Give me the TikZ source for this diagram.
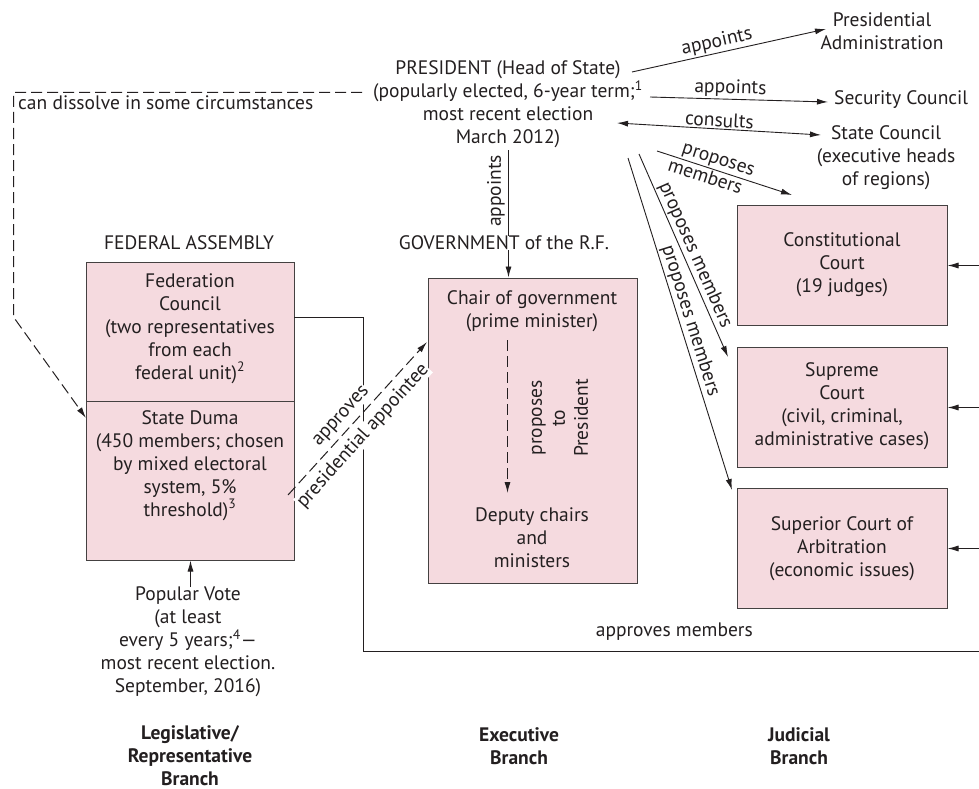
\documentclass[tikz,border=0pt]{standalone}
\usepackage{fontspec}
\setmainfont{PT Sans}
\usetikzlibrary{arrows.meta}
\definecolor{boxpink}{RGB}{245,218,223}
\definecolor{ink}{RGB}{35,31,32}
\newcommand{\fs}{\fontsize{19.5}{23}\selectfont}
\begin{document}
\begin{tikzpicture}[x=1pt,y=-1pt,
  txt/.style={align=center, inner sep=0pt, text=ink, font=\fs},
  bold/.style={align=center, inner sep=0pt, text=ink, font=\fs\bfseries},
  box/.style={draw=ink!85, fill=boxpink, line width=1pt, inner sep=0pt},
  arr/.style={-{Latex[length=11pt,width=6pt]}, line width=0.9pt, draw=ink},
  darr/.style={{Latex[length=11pt,width=6pt]}-{Latex[length=11pt,width=6pt]}, line width=0.9pt, draw=ink},
  plain/.style={line width=0.9pt, draw=ink},
  dsh/.style={dash pattern=on 11pt off 5pt, line width=1pt},
  lbl/.style={inner sep=1.5pt, text=ink, font=\fs}]
\useasboundingbox (0,0) rectangle (979,789);
\fill[white] (0,0) rectangle (979,789);

% ---------- boxes ----------
\node[box, minimum width=208pt, minimum height=139pt] (fc) at (190,331.5) {};
\node[box, minimum width=208pt, minimum height=159pt] (duma) at (190,480.5) {};
\node[box, minimum width=209pt, minimum height=305pt] (gov) at (532.5,430.5) {};
\node[box, minimum width=210pt, minimum height=120pt] (cc) at (842,265) {};
\node[box, minimum width=210pt, minimum height=120pt] (sup) at (842,407) {};
\node[box, minimum width=210pt, minimum height=120pt] (sca) at (842,548) {};

% ---------- texts ----------
\node[txt] (pres) at (508,104.5) {PRESIDENT (Head of State)\\(popularly elected, 6-year term;\textsuperscript{1}\\most recent election\\March 2012)};
\node[txt] (pa) at (882,31.5) {Presidential\\Administration};
\node[txt, anchor=west] (sc) at (834,100) {Security Council};
\node[txt] (stc) at (886,158) {State Council\\(executive heads\\of regions)};
\node[txt] (fa) at (189,243) {FEDERAL ASSEMBLY};
\node[txt] (fct) at (190,328.5) {Federation\\Council\\(two representatives\\from each\\federal unit)\textsuperscript{2}};
\node[txt] (dut) at (190,465.5) {State Duma\\(450 members; chosen\\by mixed electoral\\system, 5\%\\threshold)\textsuperscript{3}};
\node[txt] (chair) at (532,311.5) {Chair of government\\(prime minister)};
\node[txt] (dep) at (532,537.5) {Deputy chairs\\and\\ministers};
\node[txt, rotate=90] (ptp) at (560,418) {proposes\\to\\President};
\node[txt] (cct) at (842,265) {Constitutional\\Court\\(19 judges)};
\node[txt] (supt) at (842,406.5) {Supreme\\Court\\(civil, criminal,\\administrative cases)};
\node[txt] (scat) at (842,548.5) {Superior Court of\\Arbitration\\(economic issues)};
\node[txt] (pv) at (188,642) {Popular Vote\\(at least\\every 5 years;\textsuperscript{4}---\\most recent election.\\September, 2016)};
\node[txt, anchor=west] (diss) at (18,103) {can dissolve in some circumstances};
\node[txt, anchor=east] (apm) at (753,632) {approves members};
\node[bold] (leg) at (190,756) {Legislative/\\Representative\\Branch};
\node[bold] (exe) at (519,746.5) {Executive\\Branch};
\node[bold] (jud) at (799,746.5) {Judicial\\Branch};

% ---------- coordinates ----------
\coordinate (d0) at (362,92.5);
\coordinate (d1) at (13.5,92.5);
\coordinate (d2) at (13.5,317);
\coordinate (d3) at (86,418);
\coordinate (pa0) at (632,72);
\coordinate (pa1) at (826,29);
\coordinate (sc0) at (650,97);
\coordinate (sc1) at (828,102);
\coordinate (cs0) at (617,123);
\coordinate (cs1) at (821,135);
\coordinate (pm10) at (657,151);
\coordinate (pm11) at (792,195);
\coordinate (pm20) at (639,154);
\coordinate (pm21) at (728,357);
\coordinate (pm30) at (628,158);
\coordinate (pm31) at (732,490);
\coordinate (ap0) at (508.5,150);
\coordinate (ch0) at (507.5,340);
\coordinate (ch1) at (507.5,493);
\coordinate (ppa0) at (288,495);
\coordinate (ppa1) at (427,342);
\coordinate (f0) at (294,317.5);
\coordinate (f1) at (363.5,317.5);
\coordinate (f2) at (363.5,651.5);
\coordinate (f3) at (979,651.5);
\coordinate (r1) at (979,265.5);
\coordinate (r2) at (979,407.5);
\coordinate (r3) at (979,548.5);
\coordinate (pv0) at (190.5,587);

% ---------- connectors ----------
\draw[arr, dsh] (d0) -- (d1) -- (d2) -- (d3);
\draw[arr] (pa0) -- node[lbl, sloped, above, pos=0.45] {appoints} (pa1);
\draw[arr] (sc0) -- node[lbl, sloped, above, pos=0.45] {appoints} (sc1);
\draw[darr] (cs0) -- node[lbl, sloped, above, pos=0.5] {consults} (cs1);
\draw[arr] (pm10) -- node[lbl, sloped, above, pos=0.43] {proposes} node[lbl, sloped, below, pos=0.38] {members} (pm11);
\draw[arr] (pm20) -- node[lbl, sloped, above, pos=0.52] {proposes members} (pm21);
\draw[arr] (pm30) -- node[lbl, sloped, above, pos=0.5] {proposes members} (pm31);

\draw[plain] (ap0) -- (fa.north -| ap0);
\node[txt, fill=white, inner sep=0pt] (gl) at (504,243) {GOVERNMENT of the R.F.};
\draw[arr] (gl.south -| ap0) -- (gov.north -| ap0);
\node[lbl, rotate=90] (apl) at (496,191) {appoints};

\draw[arr, dsh] (ch0) -- (ch1);

\draw[plain] (f0) -- (f1) -- (f2) -- (f3);
\node[lbl, rotate=48, fill=white, inner sep=0.5pt] (appr) at (342,417) {approves};
\node[lbl, rotate=48, fill=white, inner sep=0.5pt] (papp) at (363,436) {presidential appointee};
\draw[arr, dsh] (ppa0) -- (ppa1);

\draw[arr] (r1) -- (cc.east |- r1);
\draw[arr] (r2) -- (sup.east |- r2);
\draw[arr] (r3) -- (sca.east |- r3);
\draw[arr] (pv0) -- (duma.south -| pv0);
\end{tikzpicture}
\end{document}
